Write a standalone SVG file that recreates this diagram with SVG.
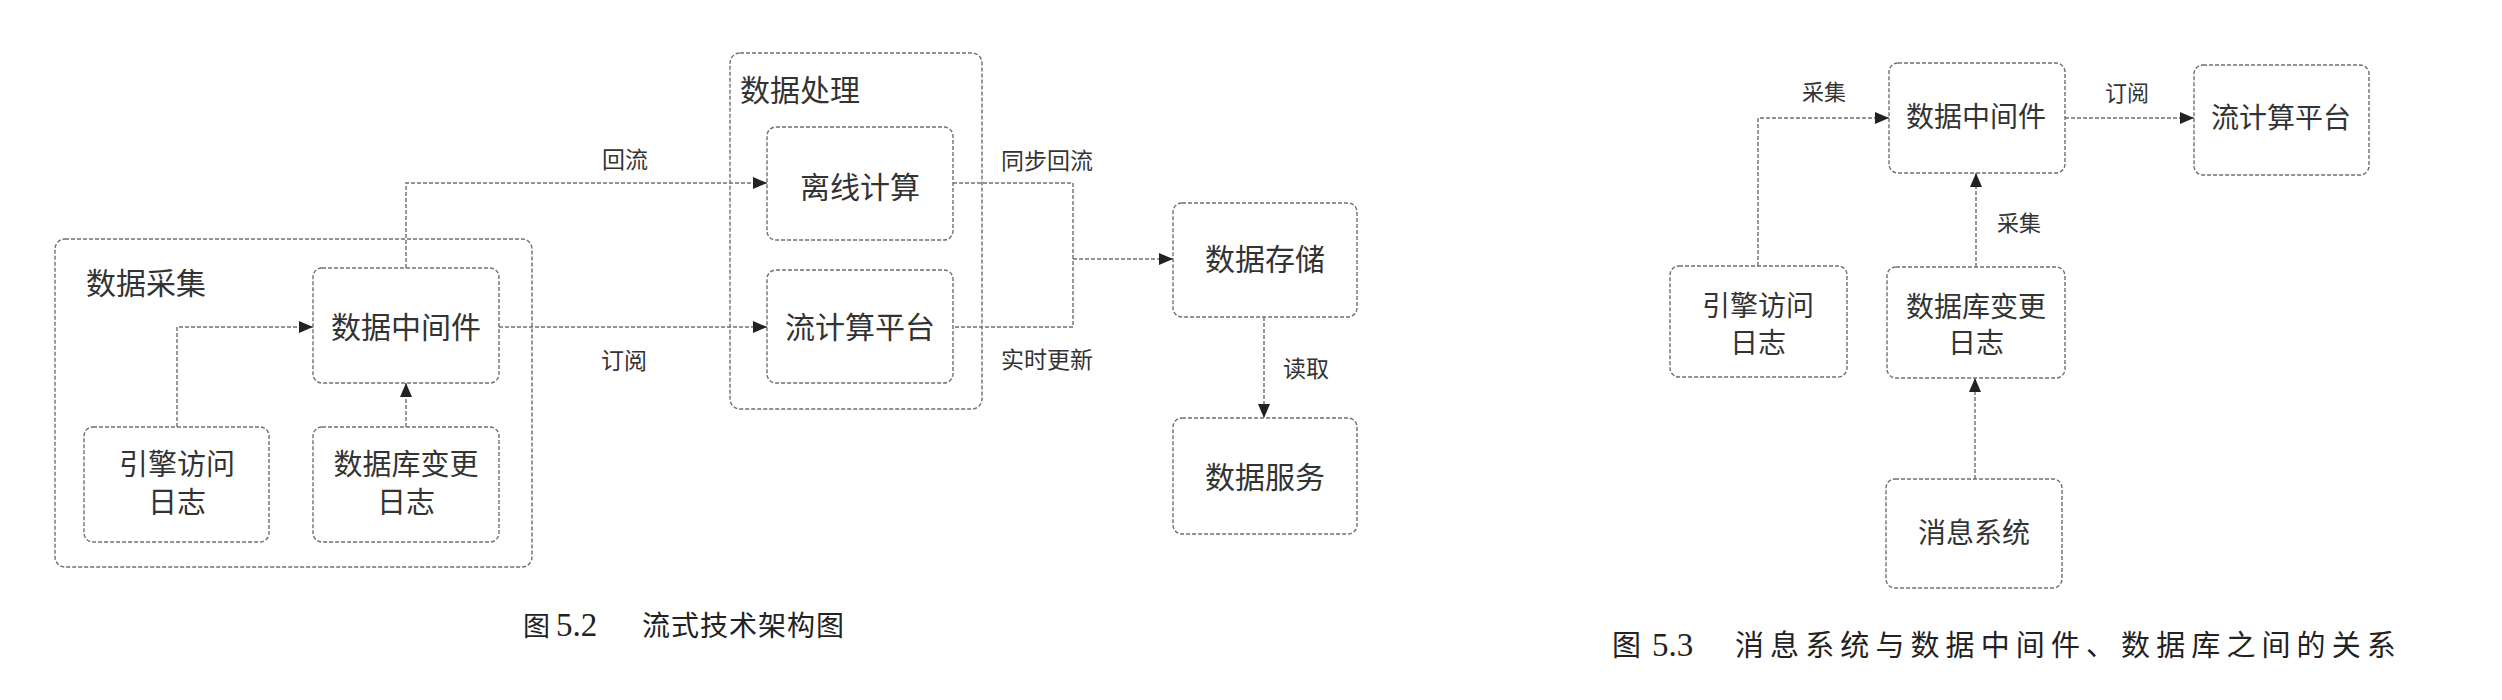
<svg xmlns="http://www.w3.org/2000/svg" width="2502" height="700" viewBox="0 0 2502 700">
<style>
.box{fill:none;stroke:#707070;stroke-width:1.4;stroke-dasharray:4 2}
.ln{fill:none;stroke:#707070;stroke-width:1.4;stroke-dasharray:4 2}
.t{font-family:"Noto Sans CJK SC","Noto Sans",sans-serif;fill:#333;text-anchor:middle}
.n30{font-size:30px}
.n29{font-size:29px}
.n28{font-size:28px}
.lb{font-size:23px}
.lb2{font-size:22px}
.cap{font-family:"Noto Sans CJK SC",sans-serif;fill:#222}
.num{font-family:"Liberation Serif",serif;fill:#222}
</style>
<defs>
<marker id="ah" markerUnits="userSpaceOnUse" markerWidth="14" markerHeight="12" refX="14" refY="6" orient="auto">
<path d="M0,0 L14,6 L0,12 z" fill="#222"/>
</marker>
</defs>
<rect x="0" y="0" width="2502" height="700" fill="#ffffff"/>

<!-- Figure 5.2 -->
<g id="grp-collect">
<rect class="box" x="55" y="239" width="477" height="328" rx="10"/>
<text class="t n30" x="86" y="294" style="text-anchor:start">数据采集</text>
</g>
<g id="grp-process">
<rect class="box" x="730" y="53" width="252" height="356" rx="10"/>
<text class="t n30" x="740" y="101" style="text-anchor:start">数据处理</text>
</g>
<g id="n-middleware">
<rect class="box" x="313" y="268" width="186" height="115" rx="9"/>
<text class="t n30" x="406" y="338">数据中间件</text>
</g>
<g id="n-engine-log">
<rect class="box" x="84" y="427" width="185" height="115" rx="9"/>
<text class="t n29" x="177" y="475">引擎访问<tspan x="177" dy="38">日志</tspan></text>
</g>
<g id="n-db-log">
<rect class="box" x="313" y="427" width="186" height="115" rx="9"/>
<text class="t n29" x="406" y="475">数据库变更<tspan x="406" dy="38">日志</tspan></text>
</g>
<g id="n-offline">
<rect class="box" x="767" y="127" width="186" height="113" rx="9"/>
<text class="t n30" x="860" y="198">离线计算</text>
</g>
<g id="n-stream">
<rect class="box" x="767" y="270" width="186" height="113" rx="9"/>
<text class="t n30" x="860" y="338">流计算平台</text>
</g>
<g id="n-storage">
<rect class="box" x="1173" y="203" width="184" height="114" rx="9"/>
<text class="t n30" x="1265" y="270">数据存储</text>
</g>
<g id="n-service">
<rect class="box" x="1173" y="418" width="184" height="116" rx="9"/>
<text class="t n30" x="1265" y="488">数据服务</text>
</g>

<g id="connectors-52">
<path class="ln" d="M177,427 V327 H313" marker-end="url(#ah)"/>
<path class="ln" d="M406,427 V383" marker-end="url(#ah)"/>
<path class="ln" d="M406,268 V183 H767" marker-end="url(#ah)"/>
<path class="ln" d="M499,327 H767" marker-end="url(#ah)"/>
<path class="ln" d="M953,183 H1073 V327 H953"/>
<path class="ln" d="M1073,259 H1173" marker-end="url(#ah)"/>
<path class="ln" d="M1264,317 V418" marker-end="url(#ah)"/>
<text class="t lb" x="625" y="168">回流</text>
<text class="t lb" x="624" y="369">订阅</text>
<text class="t lb" x="1047" y="169">同步回流</text>
<text class="t lb" x="1047" y="368">实时更新</text>
<text class="t lb" x="1306" y="377">读取</text>
</g>

<g id="caption-52">
<text class="cap" x="523" y="636" font-size="27">图</text>
<text class="num" x="556" y="636" font-size="33">5.2</text>
<text class="cap" x="642" y="636" font-size="28" letter-spacing="1">流式技术架构图</text>
</g>

<!-- Figure 5.3 -->
<g id="r-middleware">
<rect class="box" x="1889" y="63" width="176" height="110" rx="9"/>
<text class="t n28" x="1976" y="127">数据中间件</text>
</g>
<g id="r-stream">
<rect class="box" x="2194" y="65" width="175" height="110" rx="9"/>
<text class="t n28" x="2281" y="128">流计算平台</text>
</g>
<g id="r-engine-log">
<rect class="box" x="1670" y="266" width="177" height="111" rx="9"/>
<text class="t n28" x="1758" y="316">引擎访问<tspan x="1758" dy="37">日志</tspan></text>
</g>
<g id="r-db-log">
<rect class="box" x="1887" y="267" width="178" height="111" rx="9"/>
<text class="t n28" x="1976" y="317">数据库变更<tspan x="1976" dy="36">日志</tspan></text>
</g>
<g id="r-msg">
<rect class="box" x="1886" y="479" width="176" height="109" rx="9"/>
<text class="t n28" x="1974" y="543">消息系统</text>
</g>

<g id="connectors-53">
<path class="ln" d="M1758,266 V118 H1889" marker-end="url(#ah)"/>
<path class="ln" d="M1976,267 V173" marker-end="url(#ah)"/>
<path class="ln" d="M2065,118 H2194" marker-end="url(#ah)"/>
<path class="ln" d="M1975,479 V378" marker-end="url(#ah)"/>
<text class="t lb2" x="1824" y="100">采集</text>
<text class="t lb2" x="2019" y="231">采集</text>
<text class="t lb2" x="2127" y="101">订阅</text>
</g>

<g id="caption-53">
<text class="cap" x="1612" y="656" font-size="29">图</text>
<text class="num" x="1652" y="656" font-size="33">5.3</text>
<text class="cap" x="1735" y="656" font-size="29" letter-spacing="6.1">消息系统与数据中间件、数据库之间的关系</text>
</g>
</svg>
